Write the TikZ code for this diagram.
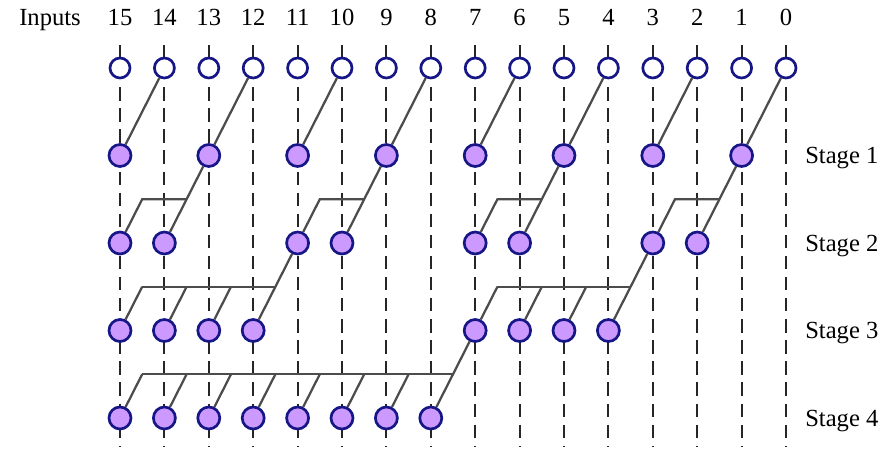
\documentclass[tikz,border=0pt]{standalone}
\usepackage{fontspec}
\setmainfont{Liberation Serif}

\definecolor{bitfill}{RGB}{204,153,255}
\definecolor{bitline}{RGB}{22,22,135}

\begin{document}
\begin{tikzpicture}[x=0.025cm, y=-0.025cm,
    guide/.style={dash pattern=on 9.5pt off 5.5pt, line width=1.4pt, black!85},
    link/.style={black!70, line width=1.6pt},
    inbit/.style={circle, draw=bitline, fill=white, line width=1.9pt, minimum size=0.5cm, inner sep=0pt},
    bit/.style={inbit, fill=bitfill, minimum size=0.55cm},
    lbl/.style={font=\fontsize{17.5}{21}\selectfont, inner sep=0pt}]

    \useasboundingbox (0,0) rectangle (894,451);

    % Column numbers
    \node[lbl, anchor=base west] (inputs) at (19,26) {Inputs};
    \foreach \k in {0,...,15}
        \node[lbl, anchor=base] (num-\k) at ({786-44.4*\k},26) {\k};

    % Dashed guides
    \foreach \k in {0,...,15}
        \draw[guide] ({786-44.4*\k},45) -- ({786-44.4*\k},446);

    % Inputs
    \foreach \k in {0,...,15}
        \node[inbit] (in-\k) at ({786-44.4*\k},68) {};

    % Stage 1
    \foreach \k in {1,3,...,15}
        \node[bit] (s1-\k) at ({786-44.4*\k},155.5) {};
    \node[lbl, anchor=base west] (stage1) at (805,164) {Stage 1};

    % Stage 2
    \foreach \k in {2,3,6,7,10,11,14,15} {
        \node[bit] (s2-\k) at ({786-44.4*\k},243) {};
        \coordinate (b2-\k) at ({786-44.4*\k+22.2},199.25);
    }
    \node[lbl, anchor=base west] (stage2) at (805,251.5) {Stage 2};

    % Stage 3
    \foreach \k in {4,5,6,7,12,13,14,15} {
        \node[bit] (s3-\k) at ({786-44.4*\k},330.5) {};
        \coordinate (b3-\k) at ({786-44.4*\k+22.2},286.75);
    }
    \node[lbl, anchor=base west] (stage3) at (805,339) {Stage 3};

    % Stage 4
    \foreach \k in {8,...,15} {
        \node[bit] (s4-\k) at ({786-44.4*\k},418) {};
        \coordinate (b4-\k) at ({786-44.4*\k+22.2},374.25);
    }
    \node[lbl, anchor=base west] (stage4) at (805,426.5) {Stage 4};

    % Links into stage 1
    \foreach \k in {0,2,...,14} {
        \pgfmathtruncatemacro\t{\k+1}
        \draw[link] (in-\k) -- (s1-\t);
    }

    % Links into stage 2
    \foreach \k in {1,5,9,13} {
        \pgfmathtruncatemacro\t{\k+1}
        \pgfmathtruncatemacro\u{\k+2}
        \draw[link] (s1-\k) -- (s2-\t);
        \draw[link] (s2-\u) -- (b2-\u) -- (b2-\t);
    }

    % Links into stage 3
    \draw[link] (s2-11) -- (s3-12);
    \draw[link] (s2-3) -- (s3-4);
    \draw[link] (b3-15) -- (b3-12);
    \draw[link] (b3-7) -- (b3-4);
    \foreach \k in {5,6,7,13,14,15}
        \draw[link] (s3-\k) -- (b3-\k);

    % Links into stage 4
    \draw[link] (s3-7) -- (s4-8);
    \draw[link] (b4-15) -- (b4-8);
    \foreach \k in {9,...,15}
        \draw[link] (s4-\k) -- (b4-\k);

\end{tikzpicture}
\end{document}
